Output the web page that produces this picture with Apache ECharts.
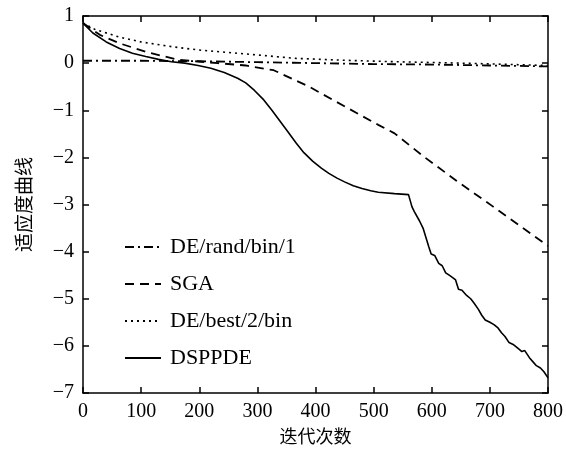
<!DOCTYPE html>
<html lang="zh">
  <head>
    <meta charset="UTF-8" />
    <title>适应度曲线</title>
    <script src="https://cdn.jsdelivr.net/npm/echarts@6/dist/echarts.min.js"></script>
    <style>
      html, body { margin: 0; padding: 0; background: #fff; }
      #chart { width: 566px; height: 450px; }
    </style>
  </head>
  <body>
    <div id="chart"></div>
    <script>
      // 图例名称
      const seriesNames = ['DE/rand/bin/1', 'SGA', 'DE/best/2/bin', 'DSPPDE']

      // DE/rand/bin/1
      const randIter = [0, 100, 200, 300, 400, 500, 600, 700, 800]
      const randVal = [0.05, 0.05, 0.04, 0.02, 0.0, -0.02, -0.03, -0.05, -0.07]

      // SGA
      const sgaIter = [0, 29, 63, 108, 164, 232, 280, 328, 389, 452, 508, 536, 587, 643, 705, 790, 800]
      const sgaVal = [0.85, 0.6, 0.42, 0.24, 0.07, 0.0, -0.05, -0.15, -0.5, -0.93, -1.31, -1.49, -1.99, -2.5, -3.04, -3.79, -3.88]

      // DE/best/2/bin
      const bestIter = [0, 20, 63, 100, 152, 198, 266, 367, 450, 536, 650, 800]
      const bestVal = [0.85, 0.72, 0.55, 0.45, 0.35, 0.28, 0.21, 0.1, 0.06, 0.03, 0.0, -0.05]

      // DSPPDE
      const dsIter = [0, 17, 40, 63, 85, 108, 130, 152, 175, 198, 220, 243, 266, 280, 295, 311, 325, 340, 355, 367, 380, 395, 410, 423,
        437, 450, 465, 480, 495, 508, 536, 560,
        562, 566, 570, 579, 585, 590, 595, 599, 605, 612, 618, 624, 630, 636, 641, 646, 652, 660, 667, 672, 680, 686, 692, 700,
        707, 714, 720, 726, 733, 740, 748, 755, 760, 768, 775, 780, 787, 793, 800]
      const dsVal = [0.85, 0.64, 0.45, 0.31, 0.21, 0.14, 0.08, 0.03, 0.0, -0.05, -0.11, -0.2, -0.32, -0.42, -0.58, -0.78, -1.0, -1.25,
        -1.5, -1.7, -1.9, -2.08, -2.23, -2.34, -2.44, -2.52, -2.6, -2.66, -2.71, -2.74, -2.77, -2.79,
        -2.8, -3.05, -3.15, -3.35, -3.5, -3.7, -3.9, -4.05, -4.08, -4.25, -4.3, -4.45,
        -4.5, -4.55, -4.6, -4.8, -4.82, -4.93, -5.0, -5.08, -5.22, -5.35, -5.45, -5.5, -5.55, -5.62, -5.72, -5.8, -5.93, -5.97,
        -6.05, -6.12, -6.1, -6.25, -6.35, -6.42, -6.47, -6.55, -6.68]

      const xTicks = [0, 100, 200, 300, 400, 500, 600, 700, 800]
      const yTicks = [1, 0, -1, -2, -3, -4, -5, -6, -7]

      const serif = '"Liberation Serif", "Times New Roman", serif'
      const cjk = '"Noto Sans CJK SC", sans-serif'

      const pairs = (xs, ys) => xs.map((x, i) => [x, ys[i]])

      const chart = echarts.init(document.getElementById('chart'))

      const axisCommon = {
        axisLine: { show: true, onZero: false, lineStyle: { color: '#000', width: 1.5 } },
        axisTick: { show: true, inside: true, length: 6, lineStyle: { color: '#000', width: 1.5 } },
        splitLine: { show: false }
      }

      const lineSeries = (name, data, type, width) => ({
        name: name,
        type: 'line',
        data: data,
        symbol: 'none',
        showSymbol: false,
        smooth: false,
        z: 3,
        itemStyle: { color: '#000' },
        lineStyle: { color: '#000', width: width, type: type }
      })

      chart.setOption({
        animation: false,
        backgroundColor: '#fff',
        grid: { left: 83, right: 10, top: 16, bottom: 57, containLabel: false },
        legend: {
          orient: 'vertical',
          left: 119,
          top: 231,
          itemWidth: 36,
          itemHeight: 14,
          itemGap: 15,
          data: seriesNames,
          itemStyle: { opacity: 0 },
          textStyle: { fontFamily: serif, fontSize: 22, color: '#000', padding: [0, 0, 0, 4] }
        },
        xAxis: [
          Object.assign({}, axisCommon, {
            type: 'value',
            min: xTicks[0],
            max: xTicks[xTicks.length - 1],
            interval: 100,
            position: 'bottom',
            name: '迭代次数',
            nameLocation: 'middle',
            nameGap: 34,
            nameTextStyle: { fontFamily: cjk, fontSize: 18, color: '#000' },
            axisLabel: { fontFamily: serif, fontSize: 20, color: '#000', margin: 9 }
          }),
          Object.assign({}, axisCommon, {
            type: 'value',
            min: xTicks[0],
            max: xTicks[xTicks.length - 1],
            interval: 100,
            position: 'top',
            axisLabel: { show: false }
          })
        ],
        yAxis: [
          Object.assign({}, axisCommon, {
            type: 'value',
            min: yTicks[yTicks.length - 1],
            max: yTicks[0],
            interval: 1,
            position: 'left',
            name: '适应度曲线',
            nameLocation: 'middle',
            nameGap: 50,
            nameRotate: 90,
            nameTextStyle: { fontFamily: cjk, fontSize: 19, color: '#000' },
            axisLabel: {
              fontFamily: serif, fontSize: 20, color: '#000', margin: 9,
              formatter: v => String(v).replace('-', '\u2212')
            }
          }),
          Object.assign({}, axisCommon, {
            type: 'value',
            min: yTicks[yTicks.length - 1],
            max: yTicks[0],
            interval: 1,
            position: 'right',
            axisLabel: { show: false }
          })
        ],
        series: [
          lineSeries(seriesNames[0], pairs(randIter, randVal), [9, 4, 2, 4], 1.8),
          lineSeries(seriesNames[1], pairs(sgaIter, sgaVal), [9, 6], 1.8),
          lineSeries(seriesNames[2], pairs(bestIter, bestVal), [2, 4], 1.6),
          lineSeries(seriesNames[3], pairs(dsIter, dsVal), 'solid', 1.6)
        ]
      })
    </script>
  </body>
</html>
